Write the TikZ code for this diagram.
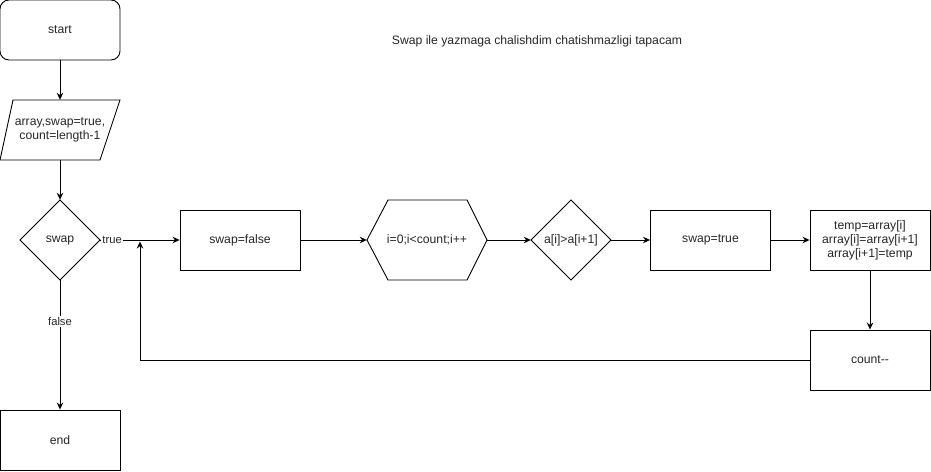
\documentclass[tikz,border=0pt]{standalone}
\usepackage{fontspec}
\setmainfont{Liberation Sans}
\usetikzlibrary{arrows.meta}
\begin{document}
\begin{tikzpicture}[x=1pt,y=-1pt,
  every node/.style={font=\fontsize{12.2}{14}\selectfont, text=black!85},
  box/.style={draw, line width=0.9pt, minimum width=120pt, minimum height=60pt, inner sep=0pt, align=center},
  ghost/.style={minimum width=#1, minimum height=80pt, inner sep=0pt, align=center},
  shp/.style={draw, line width=0.9pt, line join=miter},
  arr/.style={line width=0.9pt, -{Stealth[length=7pt,width=6.5pt]}},
  lbl/.style={fill=white, inner sep=1pt, font=\fontsize{11.2}{13}\selectfont}]
\useasboundingbox (0,0) rectangle (931,471);
% start
\node[box, rounded corners=9pt] (start) at (60,30) {start};
% input parallelogram
\draw[shp] (13,100) -- (120,100) -- (100,160) -- (0,160) -- cycle;
\node[minimum width=100pt, minimum height=60pt, inner sep=0pt, align=center] (inp) at (60,130) {array,swap=true,\\count=length-1};
% swap diamond
\draw[shp] (60,200) -- (100,240) -- (60,280) -- (20,240) -- cycle;
\node[ghost=80pt] (dswap) at (60,240) {swap};
% end
\node[box] (endn) at (60,440) {end};
% swap=false
\node[box] (sf) at (240,240) {swap=false};
% hexagon
\draw[shp] (367,240) -- (388,200) -- (467,200) -- (487,240) -- (467,280) -- (388,280) -- cycle;
\node[ghost=120pt] (hex) at (427,240) {i=0;i<count;i++};
% comparison diamond
\draw[shp] (571,200) -- (611,240) -- (571,280) -- (531,240) -- cycle;
\node[ghost=80pt] (cmp) at (571,240) {a[i]>a[i+1]};
% swap=true
\node[box] (st) at (710.5,240) {swap=true};
% temp
\node[box] (tmp) at (870,240) {temp=array[i]\\array[i]=array[i+1]\\array[i+1]=temp};
% count--
\node[box] (cnt) at (870,360) {count-{}-};
% title
\node (title) at (537,41) {Swap ile yazmaga chalishdim chatishmazligi tapacam};
\coordinate (loopend) at (140,241.5);
% connectors
\draw[arr] (start) -- (inp);
\draw[arr] (inp) -- (dswap);
\draw[arr] (dswap) -- node[lbl, pos=0.15] {true} (sf);
\draw[arr] (dswap) -- node[lbl, pos=0.32] {false} (endn);
\draw[arr] (sf) -- (hex);
\draw[arr] (hex) -- (cmp);
\draw[arr] (cmp) -- (st);
\draw[arr] (st) -- (tmp);
\draw[arr] (tmp) -- (cnt);
\draw[arr] (cnt.west) -| (loopend);
\end{tikzpicture}
\end{document}
